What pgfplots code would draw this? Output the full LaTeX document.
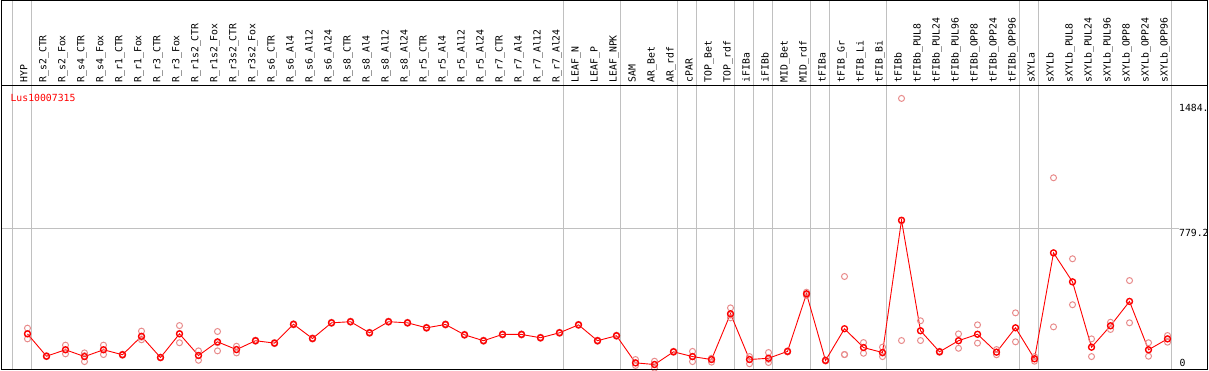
\documentclass[border=0pt]{standalone}
\usepackage{pgfplots}
\pgfplotsset{compat=1.18}
\usepackage{pgfplotstable}
\usepackage{fontspec}
\setmainfont{DejaVu Sans Mono}
\newfontfamily\pix{DejaVu Sans Mono}
\definecolor{rep}{RGB}{232,140,140}
\definecolor{sepc}{RGB}{192,192,192}

\pgfplotstableread{
x y
0 208
1 87
2 122
3 85
4 122
5 95
6 195
7 80
8 208
9 91
10 165
11 123
12 171
13 158
14 260
15 183
16 268
17 274
18 214
19 274
20 268
21 241
22 259
23 203
24 171
25 205
26 205
27 187
28 214
29 257
30 171
31 198
32 51
33 42
34 111
35 85
36 69
37 317
38 69
39 76
40 113
41 425
42 64
43 236
44 134
45 107
46 824
47 225
48 111
49 171
50 206
51 109
52 241
53 73
54 647
55 490
56 136
57 252
58 384
59 122
60 181
}\meantab

\pgfplotstableread{
x a b c
0 239 181 210
1 90 85 87
2 147 100 122
3 105 58 90
4 147 96 122
5 98 92 95
6 223 176 190
7 82 78 80
8 253 160 211
9 116 65 91
10 221 116 160
11 141 105 123
12 174 168 171
13 161 155 158
14 263 257 260
15 186 180 183
16 271 265 268
17 277 271 274
18 217 211 214
19 277 271 274
20 271 265 268
21 244 238 241
22 262 256 259
23 206 200 203
24 174 168 171
25 208 202 205
26 208 202 205
27 190 184 187
28 217 211 214
29 260 254 257
30 174 168 171
31 201 195 198
32 69 51 37
33 60 42 22
34 114 108 111
35 113 58 85
36 76 55 69
37 349 295 310
38 85 46 70
39 107 53 70
40 116 110 113
41 434 416 425
42 67 61 64
43 519 96 96
44 161 103 134
45 136 85 104
46 1484 172 820
47 279 172 225
48 114 108 111
49 208 130 171
50 257 158 206
51 123 95 109
52 322 165 241
53 85 60 73
54 1054 246 647
55 615 366 490
56 181 85 136
57 271 232 252
58 497 268 384
59 160 87 122
60 199 163 181
}\reptab

\begin{document}
\begin{tikzpicture}
\useasboundingbox (0,0) rectangle (1209pt,370pt);
\begin{axis}[
  at={(1.5pt,0.5pt)}, anchor=south west,
  scale only axis, width=1206pt, height=284pt,
  xmin=-1.368, xmax=62.105, ymin=15, ymax=1554,
  axis line style={draw=none},
  major tick length=0pt,
  ytick=\empty,
  xtick={0,...,60},
  xticklabel pos=upper,
  xticklabels={HYP,R\_s2\_CTR,R\_s2\_Fox,R\_s4\_CTR,R\_s4\_Fox,R\_r1\_CTR,R\_r1\_Fox,R\_r3\_CTR,R\_r3\_Fox,R\_r1s2\_CTR,R\_r1s2\_Fox,R\_r3s2\_CTR,R\_r3s2\_Fox,R\_s6\_CTR,R\_s6\_Al4,R\_s6\_Al12,R\_s6\_Al24,R\_s8\_CTR,R\_s8\_Al4,R\_s8\_Al12,R\_s8\_Al24,R\_r5\_CTR,R\_r5\_Al4,R\_r5\_Al12,R\_r5\_Al24,R\_r7\_CTR,R\_r7\_Al4,R\_r7\_Al12,R\_r7\_Al24,LEAF\_N,LEAF\_P,LEAF\_NPK,SAM,AR\_Bet,AR\_rdf,cPAR,TOP\_Bet,TOP\_rdf,iFIBa,iFIBb,MID\_Bet,MID\_rdf,tFIBa,tFIB\_Gr,tFIB\_Li,tFIB\_Bi,tFIBb,tFIBb\_PUL8,tFIBb\_PUL24,tFIBb\_PUL96,tFIBb\_OPP8,tFIBb\_OPP24,tFIBb\_OPP96,sXYLa,sXYLb,sXYLb\_PUL8,sXYLb\_PUL24,sXYLb\_PUL96,sXYLb\_OPP8,sXYLb\_OPP24,sXYLb\_OPP96},
  x tick label style={rotate=90, anchor=base west, inner sep=3pt, font=\pix\fontsize{9.8}{10}\selectfont},
  clip=false,
]
\pgfplotsinvokeforeach{-0.8,0.2,28.2,31.2,34.2,35.2,37.2,38.2,39.2,41.2,42.2,45.2,52.2,53.2,60.2}{
  \draw[sepc, line width=0.9pt] (axis cs:#1,15) -- ([yshift=85pt]axis cs:#1,1554);
}
\draw[sepc, line width=0.9pt] (axis cs:-1.368,779.2) -- (axis cs:60.58,779.2);

\addplot[only marks, mark=o, mark size=3pt, rep, mark options={line width=1pt}] table[x=x,y=a]{\reptab};
\addplot[only marks, mark=o, mark size=3pt, rep, mark options={line width=1pt}] table[x=x,y=b]{\reptab};
\addplot[only marks, mark=o, mark size=3pt, rep, mark options={line width=1pt}] table[x=x,y=c]{\reptab};
\addplot[red, line width=0.9pt, mark=o, mark size=3pt, mark options={line width=1.3pt}] table[x=x,y=y]{\meantab};

\node[anchor=west, inner sep=0pt, red, font=\pix\fontsize{9.8}{10}\selectfont] at (axis cs:-0.9,1489) {Lus10007315};
\node[anchor=west, inner sep=0pt, font=\pix\fontsize{9.8}{10}\selectfont] at (axis cs:60.6,1435) {1484.};
\node[anchor=west, inner sep=0pt, font=\pix\fontsize{9.8}{10}\selectfont] at (axis cs:60.6,757) {779.2};
\node[anchor=west, inner sep=0pt, font=\pix\fontsize{9.8}{10}\selectfont] at (axis cs:60.62,53) {0};
\end{axis}
\draw[line width=0.9pt] (1.5pt,0.5pt) rectangle (1207.5pt,369.5pt);
\draw[line width=0.9pt] (1.5pt,284.5pt) -- (1207.5pt,284.5pt);
\end{tikzpicture}
\end{document}
